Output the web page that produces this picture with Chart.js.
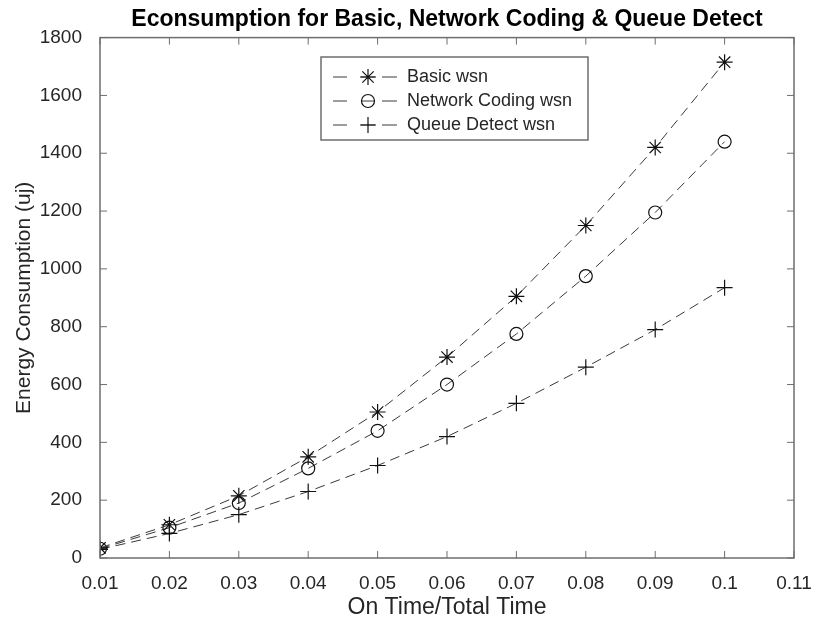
<!DOCTYPE html>
<html>
<head>
<meta charset="utf-8">
<script src="https://cdn.jsdelivr.net/npm/chart.js@4"></script>
<style>
  html, body { margin: 0; padding: 0; background: #fff; }
  #wrap { width: 814px; height: 621px; }
</style>
</head>
<body>
<div id="wrap"><canvas id="c"></canvas></div>
<script>
// 数据
const ratio = [0.01, 0.02, 0.03, 0.04, 0.05, 0.06, 0.07, 0.08, 0.09, 0.1];
const basic = [35, 115, 215, 350, 505, 695, 905, 1150, 1420, 1715];
const coding = [32, 105, 190, 310, 440, 600, 775, 975, 1195, 1440];
const queue = [30, 85, 150, 230, 320, 420, 535, 660, 790, 935];
const seriesNames = ['Basic wsn', 'Network Coding wsn', 'Queue Detect wsn'];
const markers = ['star', 'circle', 'cross'];
const markerSize = [8, 6.5, 8];

const axisColor = '#6e6e6e';
const textColor = '#262626';
const FONT = 'Liberation Sans, Arial, sans-serif';

function makeSet(i, values) {
    return {
        label: seriesNames[i],
        data: values.map((v, k) => ({ x: ratio[k], y: v })),
        borderColor: '#3a3a3a',
        borderWidth: 1,
        borderDash: [10, 6],
        pointStyle: markers[i],
        pointRadius: markerSize[i],
        pointBorderColor: '#111',
        pointBackgroundColor: 'rgba(0,0,0,0)',
        pointBorderWidth: 1.2,
        fill: false,
        tension: 0
    };
}

// 边框和向内的刻度线（MATLAB 风格）
const framePlugin = {
    id: 'frame',
    afterDatasetsDraw(chart) {
        const { ctx, chartArea: a, scales } = chart;
        ctx.save();
        ctx.strokeStyle = axisColor;
        ctx.lineWidth = 1.5;
        ctx.strokeRect(a.left, a.top, a.right - a.left, a.bottom - a.top);
        ctx.lineWidth = 1;
        const len = 7;
        scales.x.ticks.forEach(t => {
            const px = scales.x.getPixelForValue(t.value);
            ctx.beginPath();
            ctx.moveTo(px, a.bottom); ctx.lineTo(px, a.bottom - len);
            ctx.moveTo(px, a.top); ctx.lineTo(px, a.top + len);
            ctx.stroke();
        });
        scales.y.ticks.forEach(t => {
            const py = scales.y.getPixelForValue(t.value);
            ctx.beginPath();
            ctx.moveTo(a.left, py); ctx.lineTo(a.left + len, py);
            ctx.moveTo(a.right, py); ctx.lineTo(a.right - len, py);
            ctx.stroke();
        });
        ctx.restore();
    }
};

// 图内的图例
const legendPlugin = {
    id: 'innerLegend',
    afterDraw(chart) {
        const { ctx } = chart;
        const x0 = 321, y0 = 57, w = 267, h = 83;
        ctx.save();
        ctx.fillStyle = '#fff';
        ctx.fillRect(x0, y0, w, h);
        ctx.strokeStyle = axisColor;
        ctx.lineWidth = 1.5;
        ctx.strokeRect(x0, y0, w, h);
        chart.data.datasets.forEach((ds, i) => {
            const y = y0 + 20 + i * 24;
            ctx.strokeStyle = '#3a3a3a';
            ctx.lineWidth = 1;
            ctx.setLineDash([]);
            ctx.beginPath();
            ctx.moveTo(333, y); ctx.lineTo(347, y);
            ctx.moveTo(361, y); ctx.lineTo(375, y);
            ctx.moveTo(382, y); ctx.lineTo(397, y);
            ctx.stroke();
            ctx.strokeStyle = '#111';
            ctx.fillStyle = 'rgba(0,0,0,0)';
            ctx.lineWidth = 1.2;
            Chart.helpers.drawPoint(ctx, {
                pointStyle: ds.pointStyle,
                radius: ds.pointRadius,
                rotation: 0,
                borderWidth: 1.2
            }, 368, y);
            ctx.fillStyle = textColor;
            ctx.font = '18px ' + FONT;
            ctx.textBaseline = 'middle';
            ctx.fillText(ds.label, 407, y);
        });
        ctx.restore();
    }
};

new Chart(document.getElementById('c'), {
    type: 'line',
    data: {
        datasets: [makeSet(0, basic), makeSet(1, coding), makeSet(2, queue)]
    },
    options: {
        responsive: true,
        maintainAspectRatio: false,
        animation: false,
        layout: { padding: { left: 0, right: 20, top: 0, bottom: 0 } },
        plugins: {
            legend: { display: false },
            tooltip: { enabled: false },
            title: {
                display: true,
                fullSize: false,
                text: 'Econsumption for Basic, Network Coding & Queue Detect',
                color: '#000',
                font: { family: FONT, size: 23, weight: 'bold' },
                padding: { top: 6, bottom: 4 }
            }
        },
        scales: {
            x: {
                type: 'linear',
                min: 0.01,
                max: 0.11,
                afterFit(scale) {
                    scale.height = 63;
                    scale.paddingRight = 0;
                    scale.paddingLeft = 0;
                },
                grid: { display: false },
                border: { display: false },
                ticks: {
                    stepSize: 0.01,
                    color: textColor,
                    padding: 6,
                    font: { family: FONT, size: 19 },
                    maxRotation: 0,
                    autoSkip: false,
                    callback: v => String(Number(v.toFixed(2)))
                },
                title: {
                    display: true,
                    text: 'On Time/Total Time',
                    color: textColor,
                    font: { family: FONT, size: 23 },
                    padding: { top: 0, bottom: 0 }
                }
            },
            y: {
                min: 0,
                max: 1800,
                afterFit(scale) { scale.width = 100; },
                grid: { display: false },
                border: { display: false },
                ticks: {
                    stepSize: 200,
                    color: textColor,
                    padding: 10,
                    font: { family: FONT, size: 19 },
                    callback: v => String(v)
                },
                title: {
                    display: true,
                    text: 'Energy Consumption (uj)',
                    color: textColor,
                    font: { family: FONT, size: 21 },
                    padding: { top: 12, bottom: 0 }
                }
            }
        }
    },
    plugins: [framePlugin, legendPlugin]
});
</script>
</body>
</html>
